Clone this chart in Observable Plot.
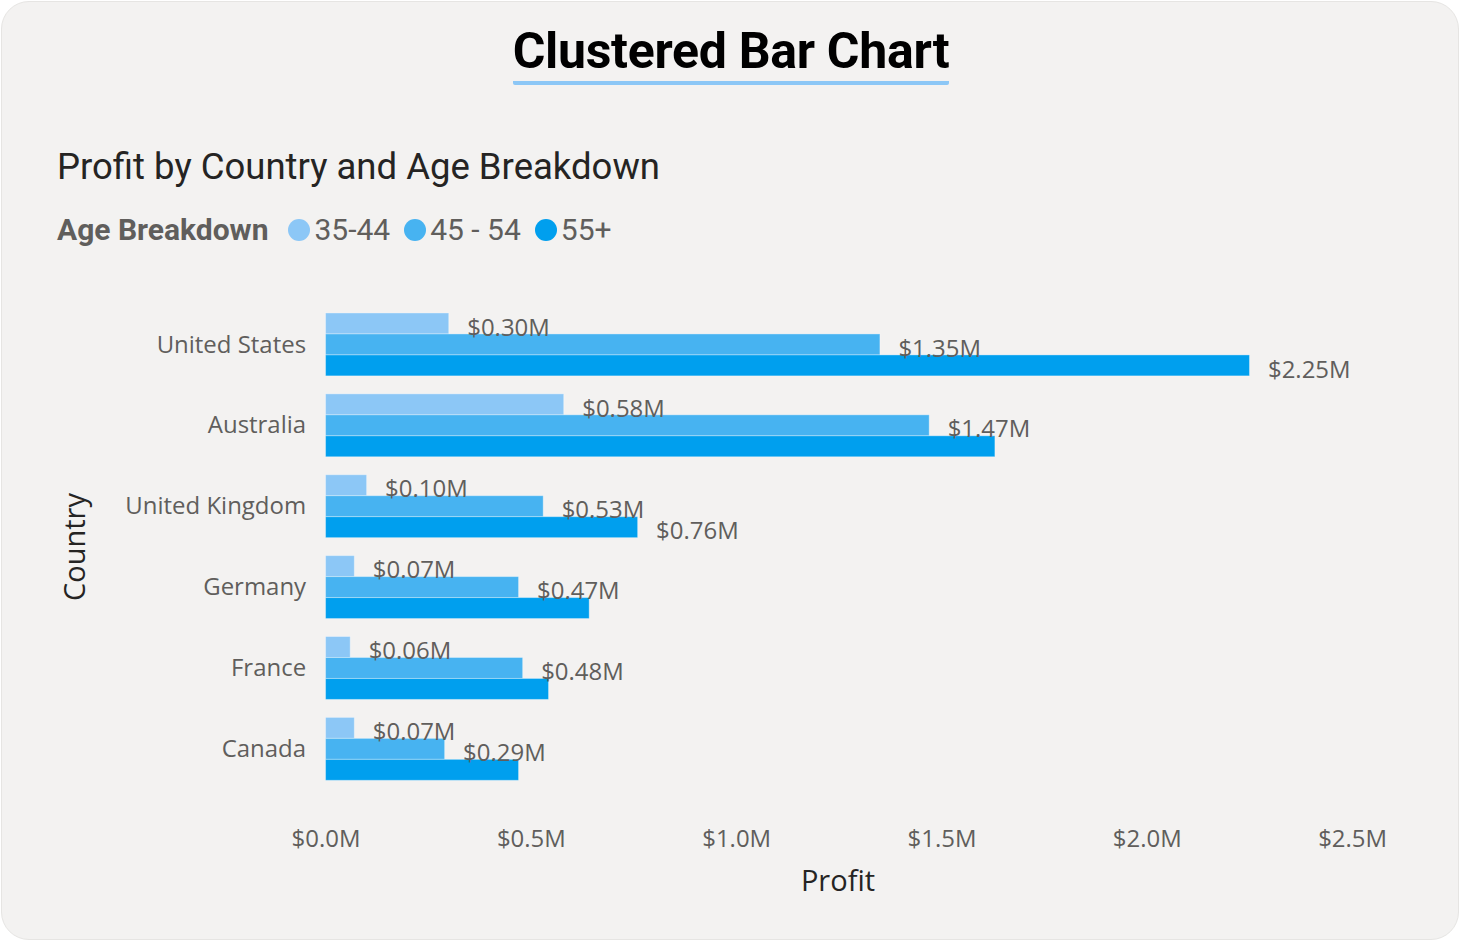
<!DOCTYPE html>
<html>
<head>
<meta charset="utf-8">
<script src="https://cdn.jsdelivr.net/npm/d3@7"></script>
<script src="https://cdn.jsdelivr.net/npm/@observablehq/plot@0.6"></script>
<style>
  html, body { margin: 0; padding: 0; background: #ffffff; }
  #card {
    position: absolute; left: 1px; top: 1px; width: 1456px; height: 937px;
    background: #F3F2F1; border-radius: 28px; border: 1px solid #E6E5E3;
    overflow: hidden;
  }
  #title {
    position: absolute; left: 0; width: 1458px; top: 20px; text-align: center;
    font-family: Roboto, sans-serif; font-weight: 700; font-size: 50px; color: #000;
    letter-spacing: -0.3px;
  }
  #title span { display: inline-block; padding-bottom: 1px; border-bottom: 4px solid #8CC7F6; border-radius: 2px; line-height: 58px; }
  #subtitle {
    position: absolute; left: 55px; top: 143px; font-family: Roboto, sans-serif;
    font-size: 36.5px; color: #252423;
  }
  #legend {
    position: absolute; left: 55px; top: 210px; font-family: Roboto, sans-serif;
    font-size: 30px; color: #605E5C; display: flex; align-items: center;
  }
  #legend .lt { font-weight: 700; margin-right: 20px; }
  #legend .item { display: flex; align-items: center; margin-right: 14px; }
  #legend .dot { width: 22px; height: 22px; border-radius: 50%; margin-right: 4px; }
  #chart { position: absolute; left: -2px; top: 287px; }
  #xlabel {
    position: absolute; left: 324px; width: 1024px; top: 858px; text-align: center;
    font-family: "Open Sans", sans-serif; font-size: 29px; color: #252423;
  }
  #ylabel {
    position: absolute; left: 71px; top: 545px; transform: translate(-50%, -50%) rotate(-90deg);
    font-family: "Open Sans", sans-serif; font-size: 29px; color: #252423; white-space: nowrap;
  }
</style>
</head>
<body>
<div id="card">
  <div id="title"><span>Clustered Bar Chart</span></div>
  <div id="subtitle">Profit by Country and Age Breakdown</div>
  <div id="legend"></div>
  <div id="chart"></div>
  <div id="xlabel">Profit</div>
  <div id="ylabel">Country</div>
</div>
<script>
const countries = ["United States", "Australia", "United Kingdom", "Germany", "France", "Canada"];
const ages = ["35-44", "45 - 54", "55+"];
const colors = ["#8CC7F6", "#47B3F1", "#009FEE"];
const profit3544 = [0.30, 0.58, 0.10, 0.07, 0.06, 0.07];
const profit4554 = [1.35, 1.47, 0.53, 0.47, 0.48, 0.29];
const profit55p = [2.25, 1.63, 0.76, 0.642, 0.543, 0.47];
// which bars carry a data label: [35-44, 45-54, 55+] per country
const labeled = [
  [true, true, true],
  [true, true, false],
  [true, true, true],
  [true, true, false],
  [true, true, false],
  [true, true, false]
];
const xTicks = [0, 0.5, 1.0, 1.5, 2.0, 2.5];

const series = [profit3544, profit4554, profit55p];
const data = [];
countries.forEach((c, i) => {
  ages.forEach((a, j) => {
    data.push({country: c, age: a, value: series[j][i], label: labeled[i][j]});
  });
});

// legend
const legend = document.getElementById("legend");
legend.innerHTML = `<span class="lt">Age Breakdown</span>` + ages.map((a, j) =>
  `<span class="item"><span class="dot" style="background:${colors[j]}"></span>${a}</span>`).join("");

const fmt = v => "$" + v.toFixed(2) + "M";
const chart = Plot.plot({
  width: 1460,
  height: 620,
  marginLeft: 326,
  marginRight: 106,
  marginTop: 21,
  marginBottom: 126,
  style: {background: "transparent", fontFamily: "'Open Sans', sans-serif", fontSize: "24px", color: "#605E5C"},
  x: {domain: [0, 2.5], ticks: xTicks, tickFormat: d => "$" + d.toFixed(1) + "M", tickSize: 0, tickPadding: 49, label: null},
  y: {domain: ages, axis: null, padding: 0},
  fy: {domain: countries, paddingInner: 0.226, paddingOuter: 0, tickSize: 0, tickPadding: 20, label: null},
  color: {domain: ages, range: colors},
  marks: [
    Plot.barX(data, {x: "value", y: "age", fy: "country", fill: "age", stroke: "#ffffff", strokeOpacity: 0.35, strokeWidth: 1}),
    Plot.text(data.filter(d => d.label), {x: "value", y: "age", fy: "country", text: d => fmt(d.value), dx: 18, dy: 4, textAnchor: "start", fill: "#605E5C", fontSize: 24})
  ]
});
document.getElementById("chart").appendChild(chart);
</script>
</body>
</html>
